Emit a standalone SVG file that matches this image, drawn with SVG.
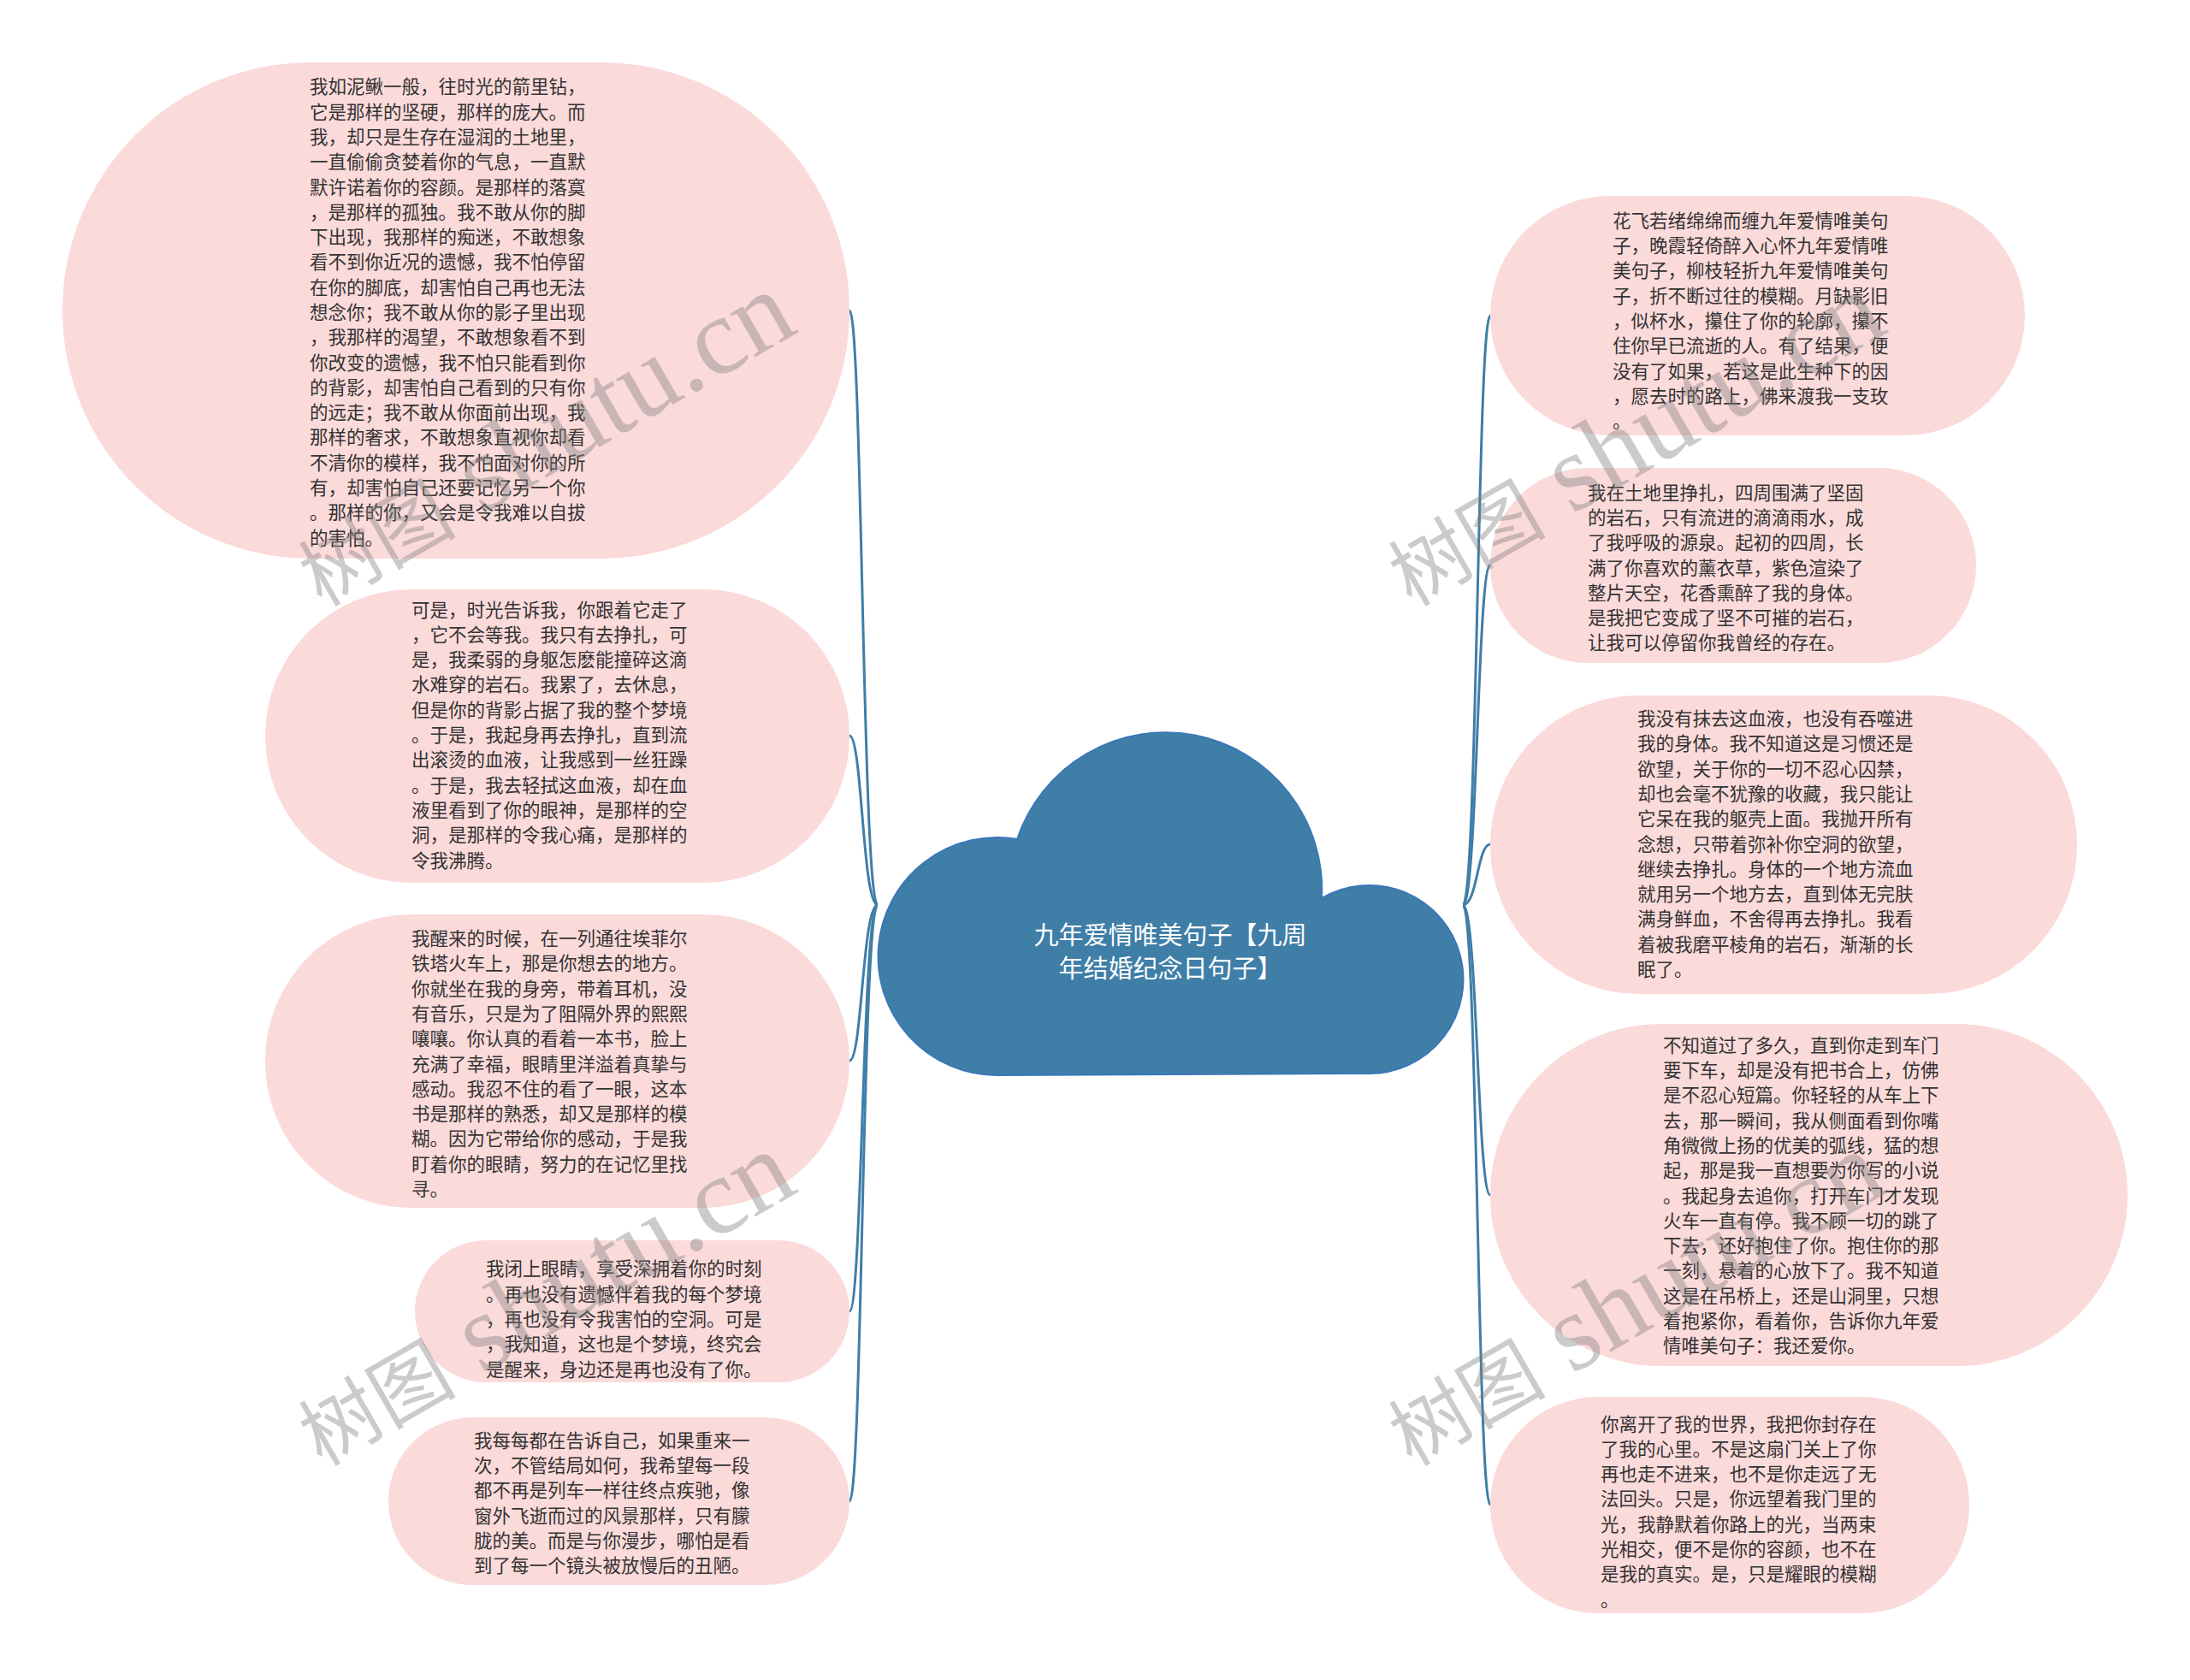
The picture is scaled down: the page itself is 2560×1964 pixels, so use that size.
<svg xmlns="http://www.w3.org/2000/svg" width="2560" height="1964" viewBox="0 0 2560 1964">
<style>
.bg{fill:#ffffff}
.node{fill:#fbdada}
.t{font-family:"Noto Sans CJK SC","Noto Sans",sans-serif;font-size:21.5px;fill:#333333}
.ct{font-family:"Noto Sans CJK SC","Noto Sans",sans-serif;font-size:29px;fill:#ffffff;text-anchor:middle}
.conn{fill:none;stroke:#3f7ea7;stroke-width:3}
.wm{font-family:"Liberation Serif","Noto Sans CJK SC",serif;font-size:92px;fill:#808080;opacity:0.4}
.wl{font-size:128px}
</style>
<rect class="bg" x="0" y="0" width="2560" height="1964"/>
<g id="connectors">
<path class="conn" d="M1026 1058 C1008 1058 1008 363 993 363"/>
<path class="conn" d="M1026 1058 C1008 1058 1008 860 993 860"/>
<path class="conn" d="M1026 1058 C1008 1058 1008 1240 993 1240"/>
<path class="conn" d="M1026 1058 C1008 1058 1008 1533 993 1533"/>
<path class="conn" d="M1026 1058 C1008 1058 1008 1755 993 1755"/>
<path class="conn" d="M1710 1058 C1727 1058 1727 369 1742 369"/>
<path class="conn" d="M1710 1058 C1727 1058 1727 661 1742 661"/>
<path class="conn" d="M1710 1058 C1727 1058 1727 987 1742 987"/>
<path class="conn" d="M1710 1058 C1727 1058 1727 1397 1742 1397"/>
<path class="conn" d="M1710 1058 C1727 1058 1727 1759 1742 1759"/>
</g>
<g id="root">
<path d="M1165 1257 A139 139 0 1 1 1189 981 A183 184 0 0 1 1545 1050 A110 110 0 1 1 1600 1255 Z" fill="#3f7ea7" stroke="#3a77b8" stroke-width="2"/>
<text class="ct" x="1368" y="1104">九年爱情唯美句子【九周</text>
<text class="ct" x="1368" y="1143">年结婚纪念日句子】</text>
</g>
<g id="node-l1">
<rect class="node" x="73" y="73" width="920" height="580" rx="290" ry="290"/>
<text class="t" x="362" y="109.3"><tspan x="362">我如泥鳅一般，往时光的箭里钻，</tspan><tspan x="362" dy="29.3">它是那样的坚硬，那样的庞大。而</tspan><tspan x="362" dy="29.3">我，却只是生存在湿润的土地里，</tspan><tspan x="362" dy="29.3">一直偷偷贪婪着你的气息，一直默</tspan><tspan x="362" dy="29.3">默许诺着你的容颜。是那样的落寞</tspan><tspan x="362" dy="29.3">，是那样的孤独。我不敢从你的脚</tspan><tspan x="362" dy="29.3">下出现，我那样的痴迷，不敢想象</tspan><tspan x="362" dy="29.3">看不到你近况的遗憾，我不怕停留</tspan><tspan x="362" dy="29.3">在你的脚底，却害怕自己再也无法</tspan><tspan x="362" dy="29.3">想念你；我不敢从你的影子里出现</tspan><tspan x="362" dy="29.3">，我那样的渴望，不敢想象看不到</tspan><tspan x="362" dy="29.3">你改变的遗憾，我不怕只能看到你</tspan><tspan x="362" dy="29.3">的背影，却害怕自己看到的只有你</tspan><tspan x="362" dy="29.3">的远走；我不敢从你面前出现，我</tspan><tspan x="362" dy="29.3">那样的奢求，不敢想象直视你却看</tspan><tspan x="362" dy="29.3">不清你的模样，我不怕面对你的所</tspan><tspan x="362" dy="29.3">有，却害怕自己还要记忆另一个你</tspan><tspan x="362" dy="29.3">。那样的你，又会是令我难以自拔</tspan><tspan x="362" dy="29.3">的害怕。</tspan></text>
</g>
<g id="node-l2">
<rect class="node" x="310" y="689" width="683" height="343" rx="171" ry="171"/>
<text class="t" x="481" y="720.5"><tspan x="481">可是，时光告诉我，你跟着它走了</tspan><tspan x="481" dy="29.3">，它不会等我。我只有去挣扎，可</tspan><tspan x="481" dy="29.3">是，我柔弱的身躯怎麽能撞碎这滴</tspan><tspan x="481" dy="29.3">水难穿的岩石。我累了，去休息，</tspan><tspan x="481" dy="29.3">但是你的背影占据了我的整个梦境</tspan><tspan x="481" dy="29.3">。于是，我起身再去挣扎，直到流</tspan><tspan x="481" dy="29.3">出滚烫的血液，让我感到一丝狂躁</tspan><tspan x="481" dy="29.3">。于是，我去轻拭这血液，却在血</tspan><tspan x="481" dy="29.3">液里看到了你的眼神，是那样的空</tspan><tspan x="481" dy="29.3">洞，是那样的令我心痛，是那样的</tspan><tspan x="481" dy="29.3">令我沸腾。</tspan></text>
</g>
<g id="node-l3">
<rect class="node" x="310" y="1069" width="683" height="343" rx="171" ry="171"/>
<text class="t" x="481" y="1105"><tspan x="481">我醒来的时候，在一列通往埃菲尔</tspan><tspan x="481" dy="29.3">铁塔火车上，那是你想去的地方。</tspan><tspan x="481" dy="29.3">你就坐在我的身旁，带着耳机，没</tspan><tspan x="481" dy="29.3">有音乐，只是为了阻隔外界的熙熙</tspan><tspan x="481" dy="29.3">嚷嚷。你认真的看着一本书，脸上</tspan><tspan x="481" dy="29.3">充满了幸福，眼睛里洋溢着真挚与</tspan><tspan x="481" dy="29.3">感动。我忍不住的看了一眼，这本</tspan><tspan x="481" dy="29.3">书是那样的熟悉，却又是那样的模</tspan><tspan x="481" dy="29.3">糊。因为它带给你的感动，于是我</tspan><tspan x="481" dy="29.3">盯着你的眼睛，努力的在记忆里找</tspan><tspan x="481" dy="29.3">寻。</tspan></text>
</g>
<g id="node-l4">
<rect class="node" x="485" y="1450" width="508" height="166" rx="83" ry="83"/>
<text class="t" x="568" y="1491.4"><tspan x="568">我闭上眼睛，享受深拥着你的时刻</tspan><tspan x="568" dy="29.3">。再也没有遗憾伴着我的每个梦境</tspan><tspan x="568" dy="29.3">，再也没有令我害怕的空洞。可是</tspan><tspan x="568" dy="29.3">，我知道，这也是个梦境，终究会</tspan><tspan x="568" dy="29.3">是醒来，身边还是再也没有了你。</tspan></text>
</g>
<g id="node-l5">
<rect class="node" x="454" y="1657" width="539" height="196" rx="98" ry="98"/>
<text class="t" x="554" y="1691.8"><tspan x="554">我每每都在告诉自己，如果重来一</tspan><tspan x="554" dy="29.3">次，不管结局如何，我希望每一段</tspan><tspan x="554" dy="29.3">都不再是列车一样往终点疾驰，像</tspan><tspan x="554" dy="29.3">窗外飞逝而过的风景那样，只有朦</tspan><tspan x="554" dy="29.3">胧的美。而是与你漫步，哪怕是看</tspan><tspan x="554" dy="29.3">到了每一个镜头被放慢后的丑陋。</tspan></text>
</g>
<g id="node-r1">
<rect class="node" x="1742" y="229" width="625" height="280" rx="140" ry="140"/>
<text class="t" x="1885" y="265.8"><tspan x="1885">花飞若绪绵绵而缠九年爱情唯美句</tspan><tspan x="1885" dy="29.3">子，晚霞轻倚醉入心怀九年爱情唯</tspan><tspan x="1885" dy="29.3">美句子，柳枝轻折九年爱情唯美句</tspan><tspan x="1885" dy="29.3">子，折不断过往的模糊。月缺影旧</tspan><tspan x="1885" dy="29.3">，似杯水，攥住了你的轮廓，攥不</tspan><tspan x="1885" dy="29.3">住你早已流逝的人。有了结果，便</tspan><tspan x="1885" dy="29.3">没有了如果，若这是此生种下的因</tspan><tspan x="1885" dy="29.3">，愿去时的路上，佛来渡我一支玫</tspan><tspan x="1885" dy="29.3">。</tspan></text>
</g>
<g id="node-r2">
<rect class="node" x="1742" y="547" width="568" height="228" rx="114" ry="114"/>
<text class="t" x="1856" y="583.6"><tspan x="1856">我在土地里挣扎，四周围满了坚固</tspan><tspan x="1856" dy="29.3">的岩石，只有流进的滴滴雨水，成</tspan><tspan x="1856" dy="29.3">了我呼吸的源泉。起初的四周，长</tspan><tspan x="1856" dy="29.3">满了你喜欢的薰衣草，紫色渲染了</tspan><tspan x="1856" dy="29.3">整片天空，花香熏醉了我的身体。</tspan><tspan x="1856" dy="29.3">是我把它变成了坚不可摧的岩石，</tspan><tspan x="1856" dy="29.3">让我可以停留你我曾经的存在。</tspan></text>
</g>
<g id="node-r3">
<rect class="node" x="1742" y="813" width="686" height="349" rx="174" ry="174"/>
<text class="t" x="1914" y="848"><tspan x="1914">我没有抹去这血液，也没有吞噬进</tspan><tspan x="1914" dy="29.3">我的身体。我不知道这是习惯还是</tspan><tspan x="1914" dy="29.3">欲望，关于你的一切不忍心囚禁，</tspan><tspan x="1914" dy="29.3">却也会毫不犹豫的收藏，我只能让</tspan><tspan x="1914" dy="29.3">它呆在我的躯壳上面。我抛开所有</tspan><tspan x="1914" dy="29.3">念想，只带着弥补你空洞的欲望，</tspan><tspan x="1914" dy="29.3">继续去挣扎。身体的一个地方流血</tspan><tspan x="1914" dy="29.3">就用另一个地方去，直到体无完肤</tspan><tspan x="1914" dy="29.3">满身鲜血，不舍得再去挣扎。我看</tspan><tspan x="1914" dy="29.3">着被我磨平棱角的岩石，渐渐的长</tspan><tspan x="1914" dy="29.3">眠了。</tspan></text>
</g>
<g id="node-r4">
<rect class="node" x="1742" y="1197" width="745" height="400" rx="200" ry="200"/>
<text class="t" x="1944" y="1229.7"><tspan x="1944">不知道过了多久，直到你走到车门</tspan><tspan x="1944" dy="29.3">要下车，却是没有把书合上，仿佛</tspan><tspan x="1944" dy="29.3">是不忍心短篇。你轻轻的从车上下</tspan><tspan x="1944" dy="29.3">去，那一瞬间，我从侧面看到你嘴</tspan><tspan x="1944" dy="29.3">角微微上扬的优美的弧线，猛的想</tspan><tspan x="1944" dy="29.3">起，那是我一直想要为你写的小说</tspan><tspan x="1944" dy="29.3">。我起身去追你，打开车门才发现</tspan><tspan x="1944" dy="29.3">火车一直有停。我不顾一切的跳了</tspan><tspan x="1944" dy="29.3">下去，还好抱住了你。抱住你的那</tspan><tspan x="1944" dy="29.3">一刻，悬着的心放下了。我不知道</tspan><tspan x="1944" dy="29.3">这是在吊桥上，还是山洞里，只想</tspan><tspan x="1944" dy="29.3">着抱紧你，看着你，告诉你九年爱</tspan><tspan x="1944" dy="29.3">情唯美句子：我还爱你。</tspan></text>
</g>
<g id="node-r5">
<rect class="node" x="1742" y="1633" width="560" height="253" rx="126" ry="126"/>
<text class="t" x="1871" y="1672.5"><tspan x="1871">你离开了我的世界，我把你封存在</tspan><tspan x="1871" dy="29.3">了我的心里。不是这扇门关上了你</tspan><tspan x="1871" dy="29.3">再也走不进来，也不是你走远了无</tspan><tspan x="1871" dy="29.3">法回头。只是，你远望着我门里的</tspan><tspan x="1871" dy="29.3">光，我静默着你路上的光，当两束</tspan><tspan x="1871" dy="29.3">光相交，便不是你的容颜，也不在</tspan><tspan x="1871" dy="29.3">是我的真实。是，只是耀眼的模糊</tspan><tspan x="1871" dy="29.3">。</tspan></text>
</g>
<g id="watermarks">
<text class="wm" transform="translate(376 710) rotate(-30)">树图<tspan class="wl"> shutu.cn</tspan></text>
<text class="wm" transform="translate(376 1715) rotate(-30)">树图<tspan class="wl"> shutu.cn</tspan></text>
<text class="wm" transform="translate(1650 710) rotate(-30)">树图<tspan class="wl"> shutu.cn</tspan></text>
<text class="wm" transform="translate(1650 1715) rotate(-30)">树图<tspan class="wl"> shutu.cn</tspan></text>
</g>
</svg>
